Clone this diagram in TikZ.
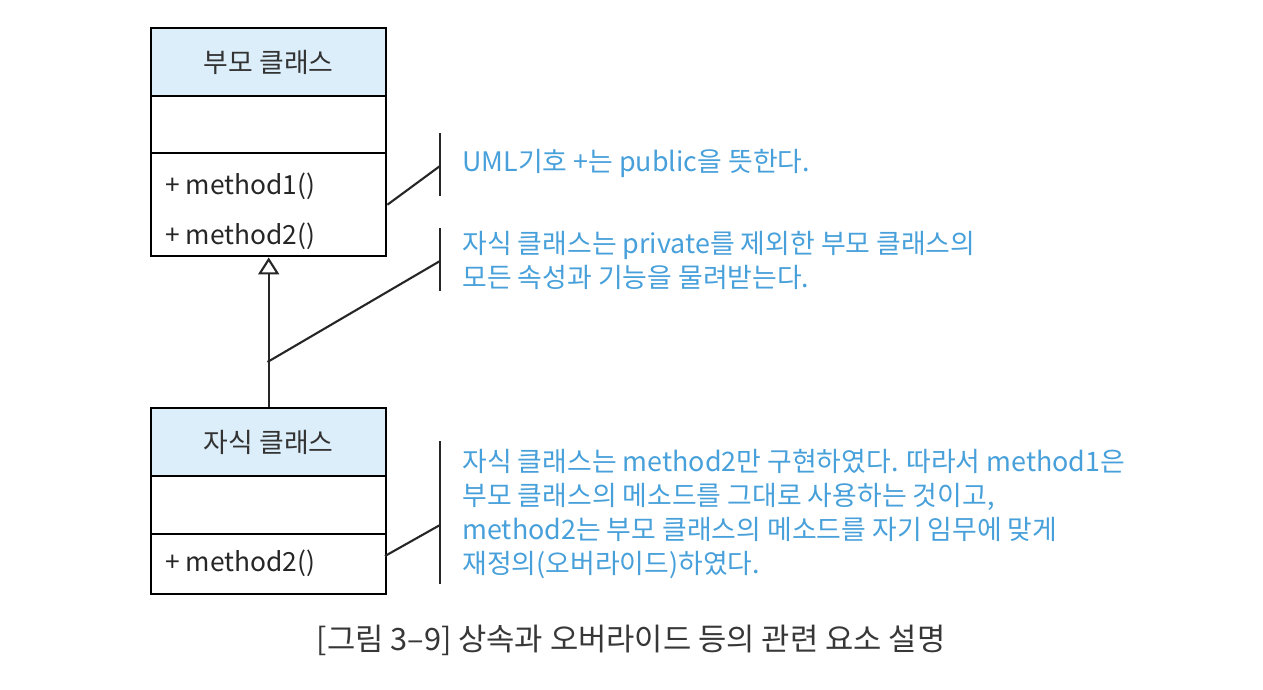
\documentclass[tikz,border=0pt]{standalone}
\usepackage{fontspec}
\setmainfont{Noto Sans CJK KR}
\usetikzlibrary{arrows.meta}
\definecolor{titlefill}{RGB}{220,238,250}
\definecolor{notecol}{RGB}{72,160,218}
\definecolor{captioncol}{RGB}{55,55,55}

\tikzset{
  part/.style={draw, line width=1.4pt, minimum width=4.7cm, inner sep=0pt, anchor=north west},
  classname/.style={font=\fontsize{15.3}{17}\selectfont, text=black!80},
  method/.style={anchor=west, inner sep=0pt, font=\fontsize{15}{17}\selectfont, text=black!85},
  note/.style={anchor=west, inner sep=0pt, align=left, text=notecol, font=\fontsize{15.3}{19.3}\selectfont},
  link/.style={line width=1.2pt, black!85},
}

\begin{document}
\begin{tikzpicture}[x=0.02cm, y=-0.02cm]
 \useasboundingbox (0,0) rectangle (1263,689);

 % parent class
 \node (ptitle) at (150,27) [part, fill=titlefill, minimum height=1.36cm, classname] {부모 클래스};
 \node (pattr) at (150,95) [part, minimum height=1.14cm] {};
 \node (pmeth) at (150,152) [part, minimum height=2.06cm] {};
 \node (pm1) at (165,186) [method] {+ method1()};
 \node (pm2) at (165,236) [method] {+ method2()};

 % child class
 \node (ctitle) at (150,407) [part, fill=titlefill, minimum height=1.36cm, classname] {자식 클래스};
 \node (cattr) at (150,475) [part, minimum height=1.16cm] {};
 \node (cmeth) at (150,533) [part, minimum height=1.2cm] {};
 \node (cm2) at (165,563) [method] {+ method2()};

 \draw [link, -{Triangle[open, width=0.42cm, length=0.34cm]}] (ctitle.north) -- (pmeth.south);

 % notes
 \coordinate (b1top) at (440,133);
 \coordinate (b1bot) at (440,196);
 \coordinate (b1mid) at (440,166);
 \coordinate (b2top) at (440,228);
 \coordinate (b2bot) at (440,291);
 \coordinate (b2mid) at (440,261);
 \coordinate (b3top) at (440,441);
 \coordinate (b3bot) at (440,584);
 \coordinate (b3mid) at (440,525);
 \coordinate (inh) at (267.5,362);
 \coordinate (cm2out) at (385,556);

 \draw [link] (b1top) -- (b1bot);
 \draw [link] (b2top) -- (b2bot);
 \draw [link] (b3top) -- (b3bot);
 \draw [link] (pmeth.east) -- (b1mid);
 \draw [link] (inh) -- (b2mid);
 \draw [link] (cm2out) -- (b3mid);

 \node (n1) at (462,163) [note] {UML기호 +는 public을 뜻한다.};
 \node (n2) at (462,260) [note] {자식 클래스는 private를 제외한 부모 클래스의\\모든 속성과 기능을 물려받는다.};
 \node (n3) at (462,514) [note] {자식 클래스는 method2만 구현하였다. 따라서 method1은\\부모 클래스의 메소드를 그대로 사용하는 것이고,\\method2는 부모 클래스의 메소드를 자기 임무에 맞게\\재정의(오버라이드)하였다.};

 \node (cap) at (631,640) [text=captioncol, font=\fontsize{17.5}{20}\selectfont] {[그림 3–9] 상속과 오버라이드 등의 관련 요소 설명};
\end{tikzpicture}
\end{document}
